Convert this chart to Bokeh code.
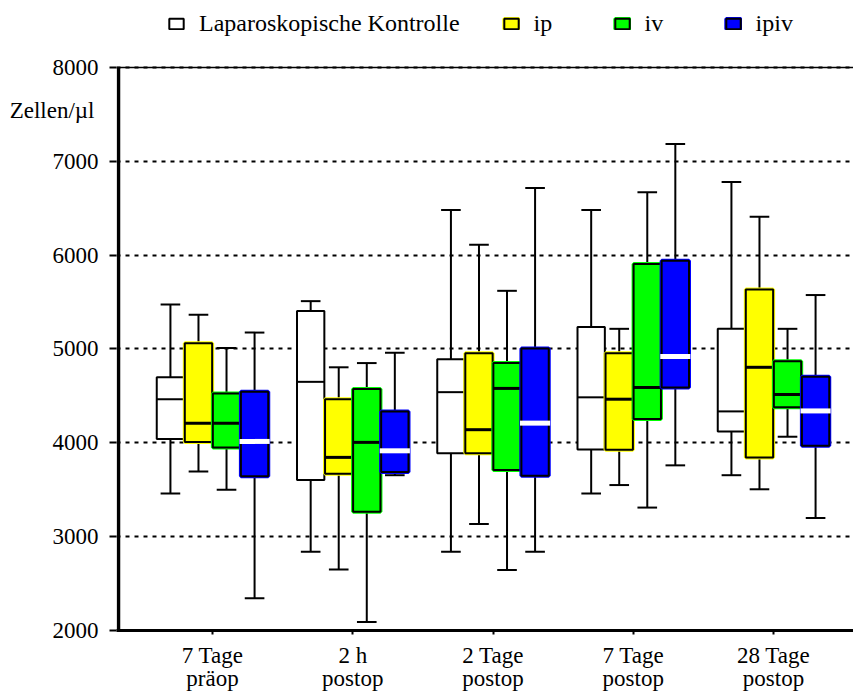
from bokeh.plotting import figure
from bokeh.models import Range1d, FixedTicker, Legend, LegendItem, Span, LinearAxis
from bokeh.embed import file_html
from bokeh.resources import INLINE

# ---------------- data ----------------
groups = ["7 Tage\npräop", "2 h\npostop", "2 Tage\npostop", "7 Tage\npostop", "28 Tage\npostop"]
series = ["Laparoskopische Kontrolle", "ip", "iv", "ipiv"]
colors = ["#FFFFFF", "#FFFF00", "#00FF00", "#0000FF"]
y_ticks = [2000, 3000, 4000, 5000, 6000, 7000, 8000]
y_label = "Zellen/µl"

kontrolle_low = [3460, 2840, 2840, 3460, 3655]
kontrolle_q1 = [4040, 3605, 3890, 3930, 4120]
kontrolle_med = [4465, 4650, 4540, 4485, 4335]
kontrolle_q3 = [4700, 5405, 4890, 5235, 5215]
kontrolle_high = [5475, 5510, 6480, 6480, 6780]

ip_low = [3695, 2650, 3135, 3550, 3505]
ip_q1 = [4010, 3670, 3890, 3925, 3845]
ip_med = [4210, 3845, 4140, 4465, 4805]
ip_q3 = [5060, 4465, 4955, 4955, 5635]
ip_high = [5365, 4805, 6110, 5215, 6410]

iv_low = [3500, 2090, 2645, 3310, 4065]
iv_q1 = [3950, 3265, 3710, 4255, 4380]
iv_med = [4210, 4005, 4580, 4590, 4515]
iv_q3 = [4525, 4575, 4850, 5905, 4870]
iv_high = [5010, 4850, 5620, 6670, 5215]

ipiv_low = [2345, 3655, 2840, 3760, 3200]
ipiv_q1 = [3645, 3690, 3650, 4590, 3970]
ipiv_med = [4015, 3915, 4210, 4920, 4340]
ipiv_q3 = [4545, 4335, 5005, 5940, 4705]
ipiv_high = [5175, 4960, 6715, 7185, 5575]

stats = [
    (kontrolle_low, kontrolle_q1, kontrolle_med, kontrolle_q3, kontrolle_high),
    (ip_low, ip_q1, ip_med, ip_q3, ip_high),
    (iv_low, iv_q1, iv_med, iv_q3, iv_high),
    (ipiv_low, ipiv_q1, ipiv_med, ipiv_q3, ipiv_high),
]

# ---------------- layout ----------------
FONT = "Liberation Serif"
FS = "23px"
offsets = [-0.3, -0.1, 0.1, 0.3]
box_w = 0.195
cap_w = 0.14
median_colors = ["black", "black", "black", "white"]
median_widths = [2, 3, 3, 5]
caption_pos = 7540
X0, X1 = 0.3155, 5.5704
Y_LO, Y_HI = y_ticks[0], y_ticks[-1]
Y_TOP = 8714          # frame reaches the top of the canvas so that the legend is not clipped
AXIS_X = 0.3298       # where the left axis line sits (2 px inside the frame)

p = figure(width=853, height=698, output_backend="svg", toolbar_location=None,
           x_range=Range1d(X0, X1), y_range=Range1d(Y_LO, Y_TOP),
           min_border_left=116, min_border_right=0, min_border_top=0, min_border_bottom=68,
           title=None)
p.outline_line_color = None
p.background_fill_color = "white"
p.border_fill_color = "white"

# main y axis (line drawn separately so it stops at 8000)
p.yaxis.ticker = FixedTicker(ticks=y_ticks)
p.yaxis.minor_tick_line_color = None
p.yaxis.axis_line_color = None
p.yaxis.major_tick_line_width = 2
p.yaxis.major_tick_out = 7
p.yaxis.major_tick_in = 0
p.yaxis.major_label_standoff = 11
p.yaxis.major_label_text_font = FONT
p.yaxis.major_label_text_font_size = FS
p.yaxis.major_label_text_color = "black"
p.segment(x0=[AXIS_X], y0=[Y_LO], x1=[AXIS_X], y1=[Y_HI], line_color="black", line_width=3.5)

# caption axis ("Zellen/µl"), placed outside the main y axis
cap_axis = LinearAxis(ticker=FixedTicker(ticks=[caption_pos]),
                      major_label_overrides={caption_pos: y_label},
                      axis_line_color=None, major_tick_line_color=None, minor_tick_line_color=None,
                      major_tick_out=0, major_tick_in=0, major_label_standoff=-45,
                      major_label_text_font=FONT, major_label_text_font_size=FS,
                      major_label_text_color="black")
p.add_layout(cap_axis, "left")

p.xaxis.ticker = FixedTicker(ticks=[1, 2, 3, 4, 5])
p.xaxis.major_label_overrides = {i + 1: g for i, g in enumerate(groups)}
p.xaxis.minor_tick_line_color = None
p.xaxis.axis_line_width = 3
p.xaxis.axis_line_color = "black"
p.xaxis.major_tick_line_width = 2
p.xaxis.major_tick_out = 4
p.xaxis.major_tick_in = 0
p.xaxis.major_label_standoff = 8
p.xaxis.major_label_text_font = FONT
p.xaxis.major_label_text_font_size = FS
p.xaxis.major_label_text_color = "black"
p.xaxis.major_label_text_line_height = 0.95

p.xgrid.grid_line_color = None
p.ygrid.ticker = FixedTicker(ticks=y_ticks)
p.ygrid.grid_line_color = "black"
p.ygrid.grid_line_width = 2
p.ygrid.grid_line_dash = "4 5"

p.add_layout(Span(location=Y_HI, dimension="width", line_color="black", line_width=1.5))

legend_items = []
for s, (lo, q1, med, q3, hi) in enumerate(stats):
    xs = [i + 1 + offsets[s] for i in range(len(groups))]
    # whiskers
    p.segment(x0=xs, y0=q3, x1=xs, y1=hi, line_color="black", line_width=2)
    p.segment(x0=xs, y0=lo, x1=xs, y1=q1, line_color="black", line_width=2)
    p.segment(x0=[x - cap_w / 2 for x in xs], y0=hi, x1=[x + cap_w / 2 for x in xs], y1=hi,
              line_color="black", line_width=2)
    p.segment(x0=[x - cap_w / 2 for x in xs], y0=lo, x1=[x + cap_w / 2 for x in xs], y1=lo,
              line_color="black", line_width=2)
    # boxes
    left = [x - box_w / 2 for x in xs]
    right = [x + box_w / 2 for x in xs]
    rends = []
    if s > 0:
        rends.append(p.quad(left=left, right=right, bottom=q1, top=q3,
                            fill_color=colors[s], line_color=colors[s], line_width=4))
        rends.append(p.quad(left=left, right=right, bottom=q1, top=q3,
                            fill_color=None, line_color="black", line_width=2))
    else:
        rends.append(p.quad(left=left, right=right, bottom=q1, top=q3,
                            fill_color=colors[s], line_color="black", line_width=2))
    legend_items.append(LegendItem(label=series[s], renderers=rends))
    # median
    mw = box_w / 2 + (0.01 if s == 3 else 0)
    p.segment(x0=[x - mw for x in xs], y0=med, x1=[x + mw for x in xs], y1=med,
              line_color=median_colors[s], line_width=median_widths[s])

legend = Legend(items=legend_items, location=(51, 593), orientation="horizontal",
                border_line_color=None, background_fill_alpha=0,
                padding=0, margin=0, label_standoff=14, spacing=42, label_width=37,
                glyph_width=18, glyph_height=13,
                label_text_font=FONT, label_text_font_size="24px", label_text_color="black")
p.add_layout(legend, "center")

open("out.html", "w").write(file_html(p, INLINE))
